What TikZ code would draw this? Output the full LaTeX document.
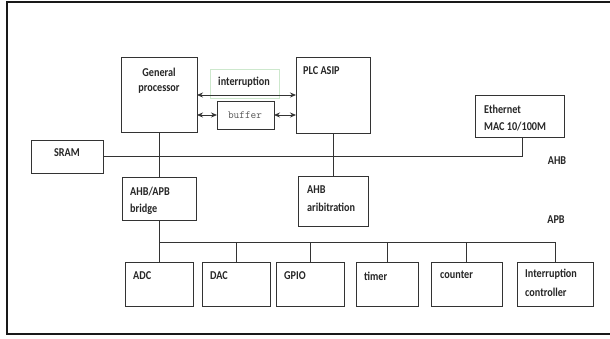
\documentclass[tikz,border=0pt]{standalone}
\usepackage{fontspec}
\setmainfont{Carlito}[FakeStretch=0.85]
\usetikzlibrary{arrows.meta}
\definecolor{lightgreen}{RGB}{205,232,205}
\begin{document}
\begin{tikzpicture}[x=1pt,y=-1pt,
  box/.style={draw=black!80, line width=0.8pt, inner sep=0, outer sep=0},
  lbl/.style={font=\bfseries\fontsize{12}{14}\selectfont, inner sep=0, anchor=west, text=black!85},
  clbl/.style={font=\bfseries\fontsize{12}{14}\selectfont, inner sep=0, text=black!85},
  bus/.style={draw=black!80, line width=0.8pt},
  dbl/.style={bus, {Stealth[length=6pt,width=5pt]}-{Stealth[length=6pt,width=5pt]}}]
\useasboundingbox (0,0) rectangle (610,338);
\fill[white] (0,0) rectangle (610,338);
\draw[line width=2.2pt, black!90] (614,2) -- (7,2) -- (7,334) -- (614,334);

% boxes
\node[box, minimum width=76, minimum height=75] (gen) at (159,94.5) {};
\node[box, minimum width=74, minimum height=76] (plc) at (333,95) {};
\node[draw=lightgreen, line width=0.6pt, minimum width=69, minimum height=29, inner sep=0] (intbox) at (244.5,83.5) {};
\node[box, minimum width=57, minimum height=28] (buf) at (245.5,115) {};
\node[box, minimum width=89, minimum height=42] (eth) at (519.5,116) {};
\node[box, minimum width=72, minimum height=33] (sram) at (67,156.5) {};
\node[box, minimum width=74, minimum height=43] (bridge) at (159,198.5) {};
\node[box, minimum width=70, minimum height=50] (arb) at (333,201) {};
\node[box, minimum width=68, minimum height=44] (adc) at (159,284) {};
\node[box, minimum width=68, minimum height=44] (dac) at (236,284) {};
\node[box, minimum width=68, minimum height=44] (gpio) at (310,284) {};
\node[box, minimum width=62, minimum height=44] (timer) at (387,284) {};
\node[box, minimum width=71, minimum height=44] (counter) at (466.5,284) {};
\node[box, minimum width=76, minimum height=44] (ic) at (555,284) {};

% texts
\node[clbl] (t-gen1) at (159,72) {General};
\node[clbl] (t-gen2) at (159,89) {processor};
\node[lbl] (t-plc) at (303,71) {PLC ASIP};
\node[clbl] (t-int) at (244,82) {interruption};
\node[inner sep=0, font=\ttfamily\fontsize{11}{13}\selectfont, text=black!65] (t-buf) at (245,115) {buffer};
\node[lbl] (t-eth1) at (484,109) {Ethernet};
\node[lbl] (t-eth2) at (484,127) {MAC 10/100M};
\node[clbl] (t-sram) at (67,153) {SRAM};
\node[lbl] (t-br1) at (130,192) {AHB/APB};
\node[lbl] (t-br2) at (130,209) {bridge};
\node[lbl] (t-arb1) at (307,190) {AHB};
\node[lbl] (t-arb2) at (307,207) {aribitration};
\node[clbl] (t-ahb) at (557,161) {AHB};
\node[clbl] (t-apb) at (556,220) {APB};
\node[lbl] (t-adc) at (133,276) {ADC};
\node[lbl] (t-dac) at (210,276) {DAC};
\node[lbl] (t-gpio) at (284,276) {GPIO};
\node[lbl] (t-timer) at (364,276) {timer};
\node[lbl] (t-counter) at (440,275) {counter};
\node[lbl] (t-ic1) at (525,274) {Interruption};
\node[lbl] (t-ic2) at (525,292) {controller};

% arrows between processors
\draw[dbl] (gen.east |- 0,95) -- (plc.west |- 0,95);
\draw[dbl] (gen.east |- buf.west) -- (buf.west);
\draw[dbl] (buf.east) -- (plc.west |- buf.east);

% AHB bus
\coordinate (ethdrop) at (522,137);
\draw[bus] (sram.east) -- (ethdrop |- sram.east) -- (ethdrop);
\draw[bus] (gen.south) -- (bridge.north);
\draw[bus] (plc.south) -- (arb.north);

% APB bus
\coordinate (apb) at (159,242);
\draw[bus] (bridge.south) -- (adc.north);
\draw[bus] (apb) -- (ic.north |- apb) -- (ic.north);
\foreach \n in {dac,gpio,timer,counter}
  \draw[bus] (\n.north |- apb) -- (\n.north);
\end{tikzpicture}
\end{document}
